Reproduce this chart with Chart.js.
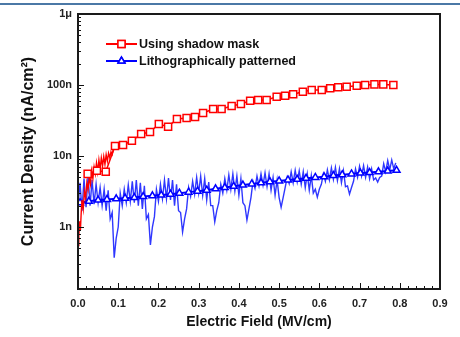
<!DOCTYPE html>
<html>
<head>
<meta charset="utf-8">
<script src="https://cdn.jsdelivr.net/npm/chart.js@4"></script>
<style>
  body{margin:0;background:#fff;}
  #wrap{position:relative;width:460px;height:337px;}
  .topbar{position:absolute;left:0;top:3px;width:460px;height:2px;background:#4b78a6;}
</style>
</head>
<body>
<div id="wrap">
  <div class="topbar"></div>
  <canvas id="myChart"></canvas>
</div>
<script>
// ---- data (x in MV/cm, y in nA/cm2) ----
const maskX = [0.024, 0.047, 0.069, 0.092, 0.112, 0.134, 0.157, 0.179, 0.201, 0.224, 0.246, 0.270,
               0.291, 0.311, 0.336, 0.357, 0.382, 0.405, 0.428, 0.448, 0.469, 0.494, 0.515, 0.535,
               0.559, 0.581, 0.606, 0.627, 0.647, 0.668, 0.693, 0.714, 0.737, 0.759, 0.784];
const maskY = [5.6, 6.2, 6.0, 13.8, 14.3, 16.4, 20.4, 21.8, 28.2, 25.9, 33.2, 34.3,
               35.4, 40.3, 45.9, 45.9, 50.6, 54.0, 60.1, 61.5, 61.5, 68.4, 70.7, 74.0,
               80.5, 85.1, 85.1, 89.9, 92.9, 94.7, 97.8, 100, 102, 102, 100];

// raw start of the shadow-mask curve (no markers)
const maskRawX = [0.000, 0.002, 0.004, 0.006, 0.008, 0.010, 0.013, 0.016, 0.019, 0.022, 0.025,
                  0.028, 0.031, 0.034, 0.037, 0.040, 0.043, 0.046, 0.049, 0.052, 0.055, 0.058,
                  0.061, 0.064, 0.067, 0.070, 0.073, 0.076, 0.079, 0.082, 0.085, 0.088, 0.092];
const maskRawY = [0.55, 0.75, 1.2, 0.9, 1.6, 2.4, 1.8, 3.2, 2.6, 4.2, 3.4,
                  5.0, 4.0, 6.2, 4.8, 7.0, 5.6, 8.0, 6.0, 8.8, 6.6, 9.4,
                  7.2, 9.8, 7.6, 10.5, 8.5, 11.0, 9.5, 11.5, 10.5, 12.5, 13.8];

const litX = [0.005, 0.027, 0.050, 0.072, 0.095, 0.117, 0.140, 0.162, 0.185, 0.207, 0.230, 0.252,
              0.275, 0.297, 0.320, 0.342, 0.365, 0.387, 0.410, 0.432, 0.455, 0.477, 0.500, 0.522,
              0.545, 0.567, 0.590, 0.612, 0.635, 0.657, 0.680, 0.702, 0.725, 0.747, 0.770, 0.792];
const litY = [2.2, 2.3, 2.4, 2.45, 2.5, 2.55, 2.6, 2.68, 2.75, 2.82, 2.9, 3.0,
              3.1, 3.2, 3.3, 3.45, 3.6, 3.75, 3.9, 4.05, 4.2, 4.35, 4.45, 4.6,
              4.7, 4.85, 5.0, 5.1, 5.3, 5.45, 5.6, 5.75, 5.85, 6.0, 6.15, 6.3];

// raw noisy trace of the lithographic device
const litRawX = [
  0.000, 0.005, 0.010, 0.015, 0.020, 0.025, 0.030, 0.035, 0.040, 0.045,
  0.050, 0.055, 0.060, 0.065, 0.070, 0.075, 0.080, 0.085, 0.090, 0.095,
  0.100, 0.105, 0.110, 0.115, 0.120, 0.125, 0.130, 0.135, 0.140, 0.145,
  0.150, 0.155, 0.160, 0.165, 0.170, 0.175, 0.180, 0.185, 0.190, 0.195,
  0.200, 0.205, 0.210, 0.215, 0.220, 0.225, 0.230, 0.235, 0.240, 0.245,
  0.250, 0.255, 0.260, 0.265, 0.270, 0.275, 0.280, 0.285, 0.290, 0.295,
  0.300, 0.305, 0.310, 0.315, 0.320, 0.325, 0.330, 0.335, 0.340, 0.345,
  0.350, 0.355, 0.360, 0.365, 0.370, 0.375, 0.380, 0.385, 0.390, 0.395,
  0.400, 0.405, 0.410, 0.415, 0.420, 0.425, 0.430, 0.435, 0.440, 0.445,
  0.450, 0.455, 0.460, 0.465, 0.470, 0.475, 0.480, 0.485, 0.490, 0.495,
  0.500, 0.505, 0.510, 0.515, 0.520, 0.525, 0.530, 0.535, 0.540, 0.545,
  0.550, 0.555, 0.560, 0.565, 0.570, 0.575, 0.580, 0.585, 0.590, 0.595,
  0.600, 0.605, 0.610, 0.615, 0.620, 0.625, 0.630, 0.635, 0.640, 0.645,
  0.650, 0.655, 0.660, 0.665, 0.670, 0.675, 0.680, 0.685, 0.690, 0.695,
  0.700, 0.705, 0.710, 0.715, 0.720, 0.725, 0.730, 0.735, 0.740, 0.745,
  0.750, 0.755, 0.760, 0.765, 0.770, 0.775, 0.780, 0.785, 0.790];
const litRawY = [
  2.0, 4.2, 1.7, 4.8, 1.9, 5.2, 2.0, 4.6, 2.1, 4.0,
  2.2, 3.6, 2.0, 3.4, 1.7, 3.3, 1.3, 1.6, 0.37, 0.7,
  1.0, 3.0, 2.0, 3.4, 2.2, 3.9, 2.3, 4.4, 2.2, 4.6,
  2.0, 4.2, 1.8, 3.8, 1.3, 1.5, 0.56, 1.0, 1.4, 3.4,
  2.3, 4.0, 2.5, 4.6, 2.5, 4.9, 2.4, 4.6, 2.0, 4.0,
  1.7, 1.6, 0.85, 1.3, 1.8, 3.6, 2.7, 4.4, 2.9, 5.0,
  3.0, 5.2, 2.8, 4.8, 2.4, 4.3, 2.0, 2.0, 1.18, 1.7,
  2.2, 4.0, 3.0, 4.8, 3.3, 5.4, 3.4, 5.6, 3.2, 5.2,
  2.8, 4.8, 2.2, 2.0, 1.25, 1.8, 2.6, 4.4, 3.5, 5.2,
  3.8, 5.6, 3.9, 5.8, 3.7, 5.6, 3.3, 5.0, 2.8, 4.6,
  2.6, 1.9, 2.6, 3.6, 5.0, 4.1, 6.0, 4.2, 6.3, 4.3,
  6.2, 4.0, 6.0, 3.6, 5.6, 3.3, 5.3, 3.0, 3.4, 2.64,
  3.4, 4.0, 5.6, 4.4, 6.4, 4.6, 6.8, 4.7, 6.9, 4.5,
  6.6, 4.2, 6.2, 3.7, 3.8, 2.9, 3.6, 4.4, 6.6, 5.0,
  7.2, 5.2, 7.3, 5.0, 7.0, 4.8, 6.6, 4.6, 4.9, 4.3,
  5.0, 5.2, 7.8, 6.0, 8.6, 6.4, 8.8, 6.6, 8.0];

const xTicks = [0, 0.1, 0.2, 0.3, 0.4, 0.5, 0.6, 0.7, 0.8, 0.9];
const yTicks = [1, 10, 100, 1000];
const yTickLabels = ['1n', '10n', '100n', '1\u03bc'];

const FONT = "'Liberation Sans', Arial, sans-serif";

function pts(xs, ys) {
    return xs.map((x, i) => ({x: x, y: ys[i]}));
}

// ---- inward tick marks, frame, legend ----
const frameTicks = {
    id: 'frameTicks',
    afterDraw(chart) {
        const ctx = chart.ctx;
        const a = chart.chartArea;
        const xs = chart.scales.x, ys = chart.scales.y;
        ctx.save();
        ctx.strokeStyle = '#111';
        ctx.lineWidth = 1;
        ctx.beginPath();
        for (let k = 0; k <= 45; k++) {
            const px = Math.round(xs.getPixelForValue(k * 0.02)) + 0.5;
            const len = k % 5 === 0 ? 6 : 3;
            ctx.moveTo(px, a.bottom);
            ctx.lineTo(px, a.bottom - len);
        }
        for (let e = -1; e < 3; e++) {
            for (let m = 1; m < 10; m++) {
                const v = m * Math.pow(10, e);
                if (v < ys.min) continue;
                const py = Math.round(ys.getPixelForValue(v)) + 0.5;
                const len = m === 1 ? 6 : 3;
                ctx.moveTo(a.left, py);
                ctx.lineTo(a.left + len, py);
            }
        }
        ctx.stroke();
        ctx.lineWidth = 2;
        ctx.strokeStyle = '#1a1a1a';
        ctx.strokeRect(a.left, a.top, a.right - a.left, a.bottom - a.top);

        // legend
        const items = [chart.data.datasets[0], chart.data.datasets[1]];
        items.forEach((ds, i) => {
            const y = 44 + i * 17;
            ctx.strokeStyle = ds.borderColor;
            ctx.lineWidth = 2;
            ctx.beginPath();
            ctx.moveTo(106, y);
            ctx.lineTo(137, y);
            ctx.stroke();
            ctx.fillStyle = '#fff';
            ctx.lineWidth = 1.5;
            Chart.helpers.drawPoint(ctx, {pointStyle: ds.pointStyle, radius: ds.pointRadius, borderWidth: 1.5, rotation: 0}, 121.5, y);
            ctx.fill();
            ctx.stroke();
            ctx.fillStyle = '#111';
            ctx.font = 'bold 12.5px ' + FONT;
            ctx.textBaseline = 'middle';
            ctx.textAlign = 'left';
            ctx.fillText(ds.label, 139, y + 0.5);
        });
        ctx.restore();
    }
};

const canvas = document.getElementById('myChart').getContext('2d');
const myChart = new Chart(canvas, {
    type: 'line',
    data: {
        datasets: [
            {
                label: 'Using shadow mask',
                data: pts(maskX, maskY),
                borderColor: '#ff0000',
                borderWidth: 1.5,
                pointStyle: 'rect',
                pointRadius: 5,
                pointBorderWidth: 1.5,
                pointBackgroundColor: '#fff',
                tension: 0,
                order: 0
            },
            {
                label: 'Lithographically patterned',
                data: pts(litX, litY),
                borderColor: '#0000ff',
                borderWidth: 2,
                pointStyle: 'triangle',
                pointRadius: 4,
                pointBorderWidth: 1.5,
                pointBackgroundColor: '#fff',
                tension: 0,
                order: 2
            },
            {
                label: 'shadow mask raw',
                data: pts(maskRawX, maskRawY),
                borderColor: '#ff0000',
                borderWidth: 1.4,
                pointRadius: 0,
                tension: 0,
                order: 1
            },
            {
                label: 'lithographic raw',
                data: pts(litRawX, litRawY),
                borderColor: 'rgba(10,20,255,0.85)',
                borderWidth: 1.4,
                pointRadius: 0,
                tension: 0,
                order: 3
            }
        ]
    },
    options: {
        responsive: true,
        maintainAspectRatio: false,
        animation: false,
        layout: {padding: {top: 14, right: 20, left: 0, bottom: 0}},
        plugins: {legend: {display: false}, tooltip: {enabled: false}},
        scales: {
            x: {
                type: 'linear',
                min: 0,
                max: 0.9,
                afterBuildTicks: s => { s.ticks = xTicks.map(v => ({value: v})); },
                afterFit: s => { s.height = 48; },
                grid: {display: false, drawTicks: false},
                border: {display: false},
                ticks: {
                    padding: 8,
                    color: '#222',
                    font: {family: FONT, size: 11, weight: 'bold'},
                    callback: v => v.toFixed(1)
                },
                title: {
                    display: true,
                    text: 'Electric Field (MV/cm)',
                    color: '#111',
                    padding: {top: 0, bottom: 6},
                    font: {family: FONT, size: 14, weight: 'bold'}
                }
            },
            y: {
                type: 'logarithmic',
                min: 0.134,
                max: 1000,
                afterBuildTicks: s => { s.ticks = yTicks.map(v => ({value: v})); },
                afterFit: s => { s.width = 78; },
                grid: {display: false, drawTicks: false},
                border: {display: false},
                ticks: {
                    padding: 6,
                    color: '#222',
                    font: {family: FONT, size: 11, weight: 'bold'},
                    callback: v => yTickLabels[yTicks.indexOf(v)]
                },
                title: {
                    display: true,
                    text: 'Current Density (nA/cm\u00b2)',
                    color: '#111',
                    padding: {top: 19, bottom: 0},
                    font: {family: FONT, size: 16, weight: 'bold'}
                }
            }
        }
    },
    plugins: [frameTicks]
});
</script>
</body>
</html>
